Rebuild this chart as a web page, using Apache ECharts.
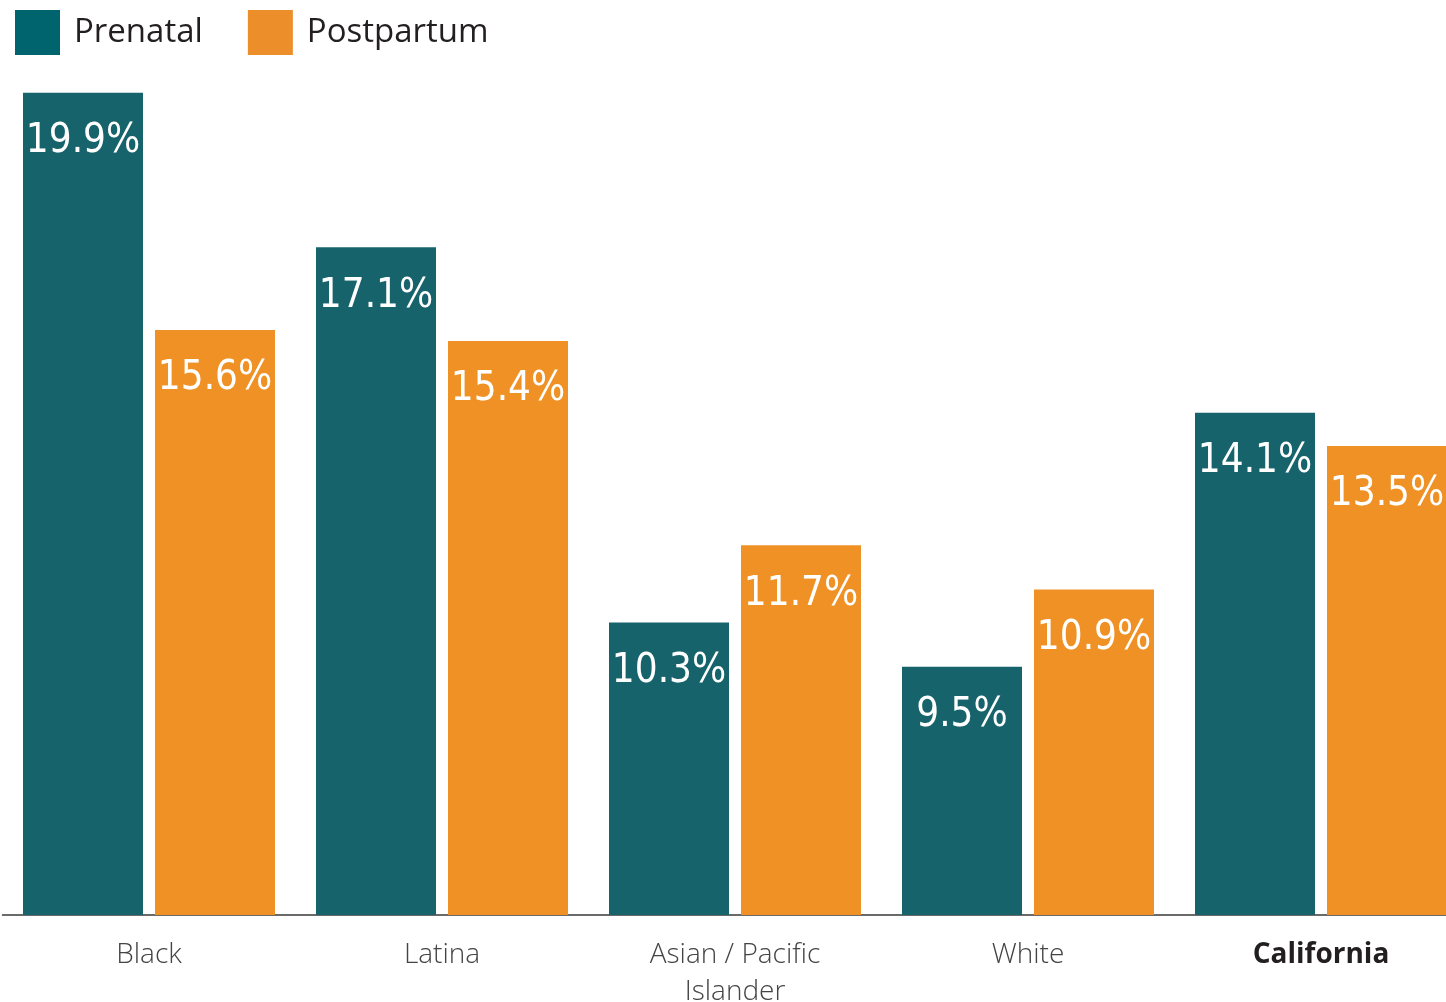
<!DOCTYPE html>
<html>
<head>
<meta charset="utf-8">
<script src="https://cdn.jsdelivr.net/npm/echarts@6/dist/echarts.min.js"></script>
<style>
  html, body { margin: 0; padding: 0; background: #fff; }
  #chart { width: 1446px; height: 1002px; }
</style>
</head>
<body>
<div id="chart"></div>
<script>
var categories = ['Black', 'Latina', 'Asian / Pacific\nIslander', 'White', 'California'];
var prenatal = [19.9, 17.1, 10.3, 9.5, 14.1];
var postpartum = [15.6, 15.4, 11.7, 10.9, 13.5];
var seriesNames = ['Prenatal', 'Postpartum'];

var labelFont = "'Liberation Sans Narrow', 'DejaVu Sans Condensed', 'Arial Narrow', sans-serif";
var chart = echarts.init(document.getElementById('chart'));

function makeLabel() {
  return {
    show: true,
    position: ['50%', 49],
    align: 'center',
    verticalAlign: 'middle',
    color: '#ffffff',
    fontFamily: labelFont,
    fontSize: 40,
    formatter: function (p) { return p.value.toFixed(1) + '%'; }
  };
}

chart.setOption({
  animation: false,
  backgroundColor: '#ffffff',
  legend: {
    left: 15,
    top: 10,
    padding: 0,
    itemWidth: 45,
    itemHeight: 45,
    itemGap: 45,
    icon: 'rect',
    textStyle: { fontFamily: "'Open Sans', sans-serif", fontSize: 33, color: '#231f20', padding: [6, 0, 0, 9] },
    data: [
      { name: seriesNames[0], itemStyle: { color: '#00646e' } },
      { name: seriesNames[1], itemStyle: { color: '#ec8f2a' } }
    ]
  },
  grid: { left: 2.5, width: 1465, top: 87.2, bottom: 87, containLabel: false, outerBoundsMode: 'none' },
  xAxis: {
    type: 'category',
    data: categories,
    axisTick: { show: false },
    axisLine: { show: true, lineStyle: { color: '#3a3a3a', width: 1.5 } },
    axisLabel: {
      margin: 22,
      fontFamily: "'Open Sans', sans-serif",
      fontWeight: 300,
      fontSize: 28,
      lineHeight: 37,
      color: '#444444',
      formatter: function (v) {
        return v === 'California' ? '{b|' + v + '}' : v;
      },
      rich: {
        b: { fontFamily: "'Open Sans', sans-serif", fontWeight: 'bold', fontSize: 28, color: '#231f20' }
      }
    }
  },
  yAxis: {
    type: 'value',
    min: 5,
    max: 20,
    show: false,
    splitLine: { show: false }
  },
  series: [
    {
      name: seriesNames[0],
      type: 'bar',
      data: prenatal,
      barWidth: 120,
      barGap: '10%',
      itemStyle: { color: '#17636c' },
      label: makeLabel()
    },
    {
      name: seriesNames[1],
      type: 'bar',
      data: postpartum,
      barWidth: 120,
      barGap: '10%',
      itemStyle: { color: '#ef9124' },
      label: makeLabel()
    }
  ]
});
</script>
</body>
</html>
